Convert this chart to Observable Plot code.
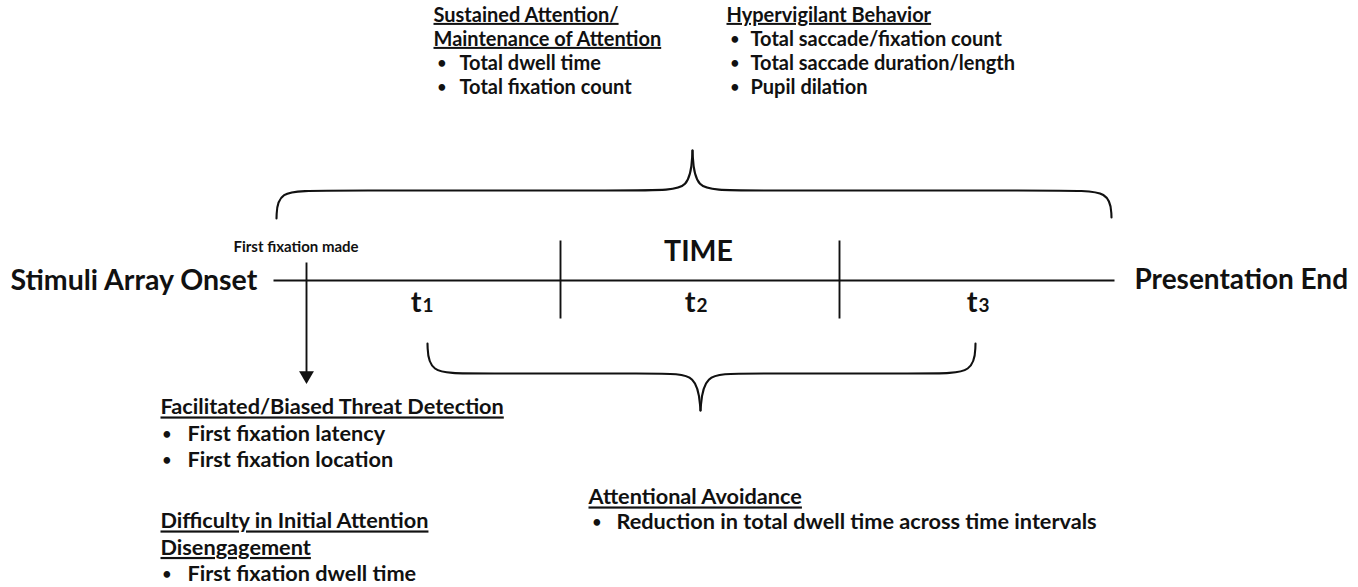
<!DOCTYPE html>
<html><head><meta charset="utf-8">
<script src="https://cdn.jsdelivr.net/npm/d3@7"></script>
<script src="https://cdn.jsdelivr.net/npm/@observablehq/plot@0.6"></script>
<style>body{margin:0;background:#fff} svg{display:block;font-family:Lato,sans-serif}</style>
</head><body><div id="chart"></div>
<script>
// ---------- content ----------
const timelineStart = "Stimuli Array Onset";
const timelineEnd = "Presentation End";
const timeLabel = "TIME";
const intervalNames = ["1", "2", "3"];
const firstFixation = "First fixation made";
const sustainedHead = ["Sustained Attention/", "Maintenance of Attention"];
const sustainedItems = ["Total dwell time", "Total fixation count"];
const hyperHead = ["Hypervigilant Behavior"];
const hyperItems = ["Total saccade/fixation count", "Total saccade duration/length", "Pupil dilation"];
const threatHead = ["Facilitated/Biased Threat Detection"];
const threatItems = ["First fixation latency", "First fixation location"];
const disengageHead = ["Difficulty in Initial Attention", "Disengagement"];
const disengageItems = ["First fixation dwell time"];
const avoidHead = ["Attentional Avoidance"];
const avoidItems = ["Reduction in total dwell time across time intervals"];

// ---------- layout (diagram units = pixels) ----------
const W = 1358, H = 587;
const axisY = 280;
const axisX = [273, 1114];
const tickX = [560, 839];
const tickY = [240, 318];
const intervalX = [421, 695, 977];
const arrowX = 306, arrowY = [262, 372];

// brace control points [x, y] (B-spline)
const topBraceLeft = [[276,218],[276,218],[277,190],[318,190],[655,190],[690,190],[692,150],[692,150]];
const topBraceRight = [[692,150],[692,150],[694,190],[729,190],[1066,190],[1110,190],[1111,217],[1111,217]];
const botBraceLeft = [[427,343],[427,343],[428,373],[468,373],[662,373],[697,373],[700,410],[700,410]];
const botBraceRight = [[700,410],[700,410],[703,373],[738,373],[932,373],[974,373],[975,343],[975,343]];

function block(x, y, head, items, lh, bx, tx, size) {
  const heads = head.map((t, i) => ({x, y: y + i * lh, t, size}));
  const y0 = y + head.length * lh;
  const bullets = items.map((t, i) => ({x: x + bx, tx: x + tx, y: y0 + i * lh, t, size}));
  return {heads, bullets};
}
const blocks = [
  block(433, 15, sustainedHead, sustainedItems, 24, 4, 26, 20),
  block(726, 15, hyperHead, hyperItems, 24, 4, 24, 20),
  block(160, 407, threatHead, threatItems, 26.5, 2, 27, 21.7),
  block(160, 521, disengageHead, disengageItems, 26.5, 2, 27, 21.7),
  block(588, 497, avoidHead, avoidItems, 25, 4, 28, 21.7)
];
const heads = blocks.flatMap(b => b.heads);
const bullets = blocks.flatMap(b => b.bullets);

const segments = [
  {x1: axisX[0], y1: axisY, x2: axisX[1], y2: axisY},
  ...tickX.map(x => ({x1: x, y1: tickY[0], x2: x, y2: tickY[1]})),
  {x1: arrowX, y1: arrowY[0], x2: arrowX, y2: arrowY[1]}
];
const braces = [topBraceLeft, topBraceRight, botBraceLeft, botBraceRight]
  .flatMap((pts, k) => pts.map(([x, y]) => ({x, y, k})));

const ink = "#111";
const chart = Plot.plot({
  width: W, height: H,
  margin: 0,
  x: {domain: [0, W], range: [0, W], axis: null},
  y: {domain: [0, H], range: [0, H], axis: null},
  style: {fontFamily: "Lato, sans-serif", background: "#fff"},
  marks: [
    Plot.link(segments, {x1: "x1", y1: "y1", x2: "x2", y2: "y2", stroke: ink, strokeWidth: 1.9}),
    Plot.dot([{x: arrowX, y: arrowY[1] + 3}], {x: "x", y: "y", symbol: "triangle", r: 5.5, rotate: 180, fill: ink, stroke: "none"}),
    Plot.line(braces, {x: "x", y: "y", z: "k", curve: "basis", stroke: ink, strokeWidth: 2.1}),
    Plot.text([timelineStart], {x: 10, y: axisY, text: d => d, textAnchor: "start", fontSize: 28.5, fontWeight: "bold", fill: ink}),
    Plot.text([timelineEnd], {x: 1134, y: axisY, text: d => d, textAnchor: "start", fontSize: 28, fontWeight: "bold", fill: ink}),
    Plot.text([timeLabel], {x: 698, y: 251, text: d => d, fontSize: 28.5, fontWeight: "bold", fill: ink}),
    Plot.text([firstFixation], {x: 233, y: 247, text: d => d, textAnchor: "start", fontSize: 15, fontWeight: "bold", fill: ink}),
    Plot.text(intervalNames, {x: (d, i) => intervalX[i], y: 311, text: () => "t", textAnchor: "end", lineAnchor: "bottom", fontSize: 29, fontWeight: "bold", fill: ink}),
    Plot.text(intervalNames, {x: (d, i) => intervalX[i], y: 311, text: d => d, textAnchor: "start", lineAnchor: "bottom", fontSize: 19, fontWeight: "bold", fill: ink, dx: 1}),
    Plot.text(heads, {x: "x", y: "y", text: "t", textAnchor: "start", fontSize: "size", fontWeight: "bold", fill: ink}),
    Plot.text(bullets, {x: "x", y: "y", text: () => "•", textAnchor: "start", fontSize: 15, fontWeight: "bold", fill: ink}),
    Plot.text(bullets, {x: "tx", y: "y", text: "t", textAnchor: "start", fontSize: "size", fontWeight: "bold", fill: ink})
  ]
});
const headSet = new Set(heads.map(d => d.t));
d3.select(chart).selectAll("text")
  .filter(function() { return headSet.has(this.textContent); })
  .attr("text-decoration", "underline")
  .style("text-decoration", "underline");
document.getElementById("chart").append(chart);
</script>
</body></html>
